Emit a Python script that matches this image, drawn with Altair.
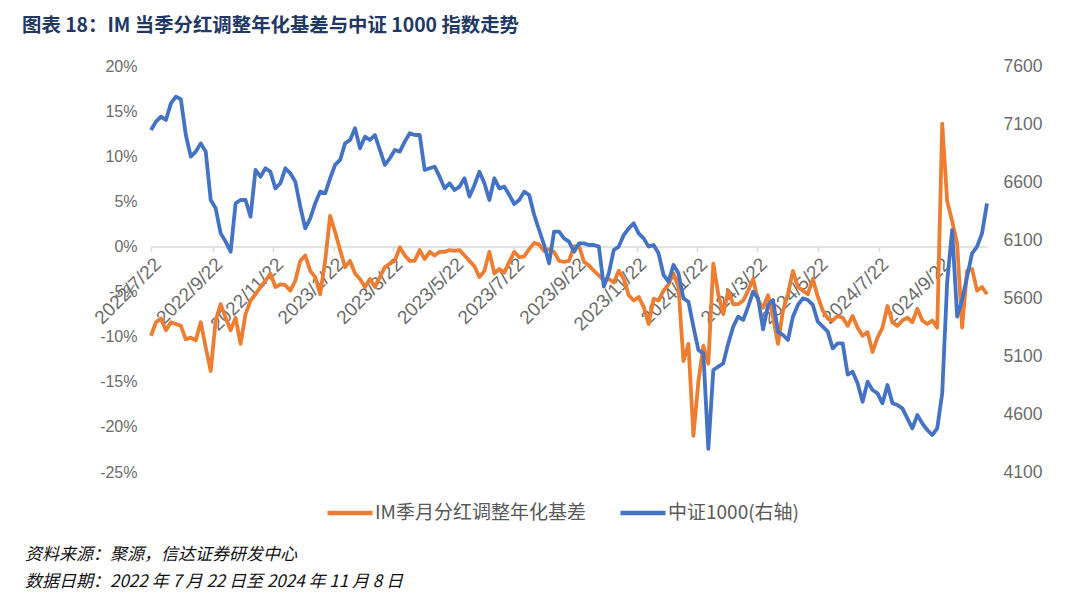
import altair as alt
import pandas as pd

start_date = "2022-07-22"
end_date = "2024-11-08"

basis = [  # IM 季月分红调整年化基差, %
    -9.9, -8.4, -8.0, -9.3, -8.4, -8.6, -8.8, -10.3, -10.1, -10.4,
    -8.4, -11.2, -13.8, -8.2, -6.4, -7.9, -9.3, -7.9, -10.8, -7.5,
    -6.0, -5.3, -4.5, -3.8, -3.0, -4.5, -4.2, -4.3, -4.9, -3.8,
    -1.6, -1.0, -2.7, -3.4, -5.3, -1.6, 3.4, 1.6, -0.4, -2.3,
    -1.6, -3.0, -3.6, -4.5, -3.6, -4.5, -3.4, -2.3, -1.9, -1.6,
    -0.1, -1.0, -1.6, -1.6, -0.4, -1.4, -0.6, -1.0, -0.6, -0.6,
    -0.4, -0.5, -0.4, -1.0, -1.6, -2.2, -3.4, -2.7, -0.6, -3.0,
    -2.5, -2.9, -1.7, -0.6, -1.2, -1.1, -0.3, 0.4, 0.2, -0.5,
    -0.3, -0.6, -1.6, -1.7, -1.6, 0.0, 0.1, -1.7, -2.1, -2.7,
    -3.2, -3.8, -3.6, -4.0, -2.7, -3.6, -5.4, -6.0, -5.6, -6.7,
    -8.6, -5.8, -6.0, -4.9, -4.2, -3.0, -4.5, -12.7, -10.8, -21.0,
    -15.0, -11.0, -13.0, -1.9, -5.3, -7.5, -4.9, -6.4, -6.4, -6.0,
    -4.9, -3.6, -6.0, -6.8, -5.4, -7.8, -10.8, -7.1, -5.3, -2.7,
    -4.5, -4.9, -5.3, -3.6, -5.6, -7.1, -8.0, -8.2, -7.7, -7.9,
    -8.8, -7.7, -9.0, -9.9, -9.5, -11.7, -10.1, -9.0, -6.6, -8.4,
    -8.8, -8.2, -7.9, -8.4, -6.9, -8.2, -8.6, -8.2, -9.0, 13.6,
    5.0, 2.8, 0.3, -9.0, -2.7, -2.5, -4.9, -4.5, -5.3,
]

csi1000 = [  # 中证1000 (right axis)
    7049, 7120, 7163, 7135, 7278, 7336, 7313, 7005, 6819, 6862,
    6933, 6862, 6445, 6373, 6157, 6086, 5999, 6416, 6445, 6445,
    6301, 6704, 6646, 6718, 6689, 6545, 6589, 6718, 6675, 6603,
    6387, 6201, 6287, 6416, 6517, 6502, 6632, 6747, 6790, 6933,
    6962, 7063, 6890, 6991, 6962, 7005, 6876, 6747, 6804, 6876,
    6862, 6948, 7020, 7005, 7005, 6704, 6718, 6732, 6646, 6545,
    6589, 6531, 6560, 6632, 6474, 6574, 6689, 6589, 6445, 6632,
    6545, 6560, 6488, 6410, 6445, 6517, 6488, 6316, 6186, 6057,
    5899, 6172, 6172, 6114, 6086, 5999, 6071, 6071, 6057, 6057,
    6043, 5698, 5813, 6014, 6043, 6143, 6201, 6244, 6157, 6114,
    6043, 6057, 5985, 5798, 5741, 5884, 5813, 5597, 5568, 5353,
    5152, 5123, 4300, 4979, 5008, 5037, 5209, 5353, 5439, 5410,
    5525, 5655, 5597, 5330, 5540, 5583, 5310, 5281, 5238, 5439,
    5540, 5597, 5583, 5540, 5396, 5353, 5310, 5166, 5209, 5209,
    4940, 4965, 4864, 4706, 4879, 4807, 4778, 4692, 4850, 4692,
    4677, 4649, 4563, 4476, 4591, 4519, 4462, 4419, 4476, 4778,
    5740, 6186, 5439, 5583, 5784, 5985, 6043, 6157, 6416,
]

tick_dates = [
    "2022-07-22", "2022-09-22", "2022-11-22", "2023-01-22", "2023-03-22",
    "2023-05-22", "2023-07-22", "2023-09-22", "2023-11-22", "2024-01-22",
    "2024-03-22", "2024-05-22", "2024-07-22", "2024-09-22",
]

series_names = ["IM季月分红调整年化基差", "中证1000(右轴)"]
series_colors = ["#ED7D31", "#4472C4"]

title_text = "图表 18：IM 当季分红调整年化基差与中证 1000 指数走势"
note1 = "资料来源：聚源，信达证券研发中心"
note2 = "数据日期：2022 年 7 月 22 日至 2024 年 11 月 8 日"

# ---- table ----
dates = pd.date_range(start_date, periods=len(basis), freq="5D")
df = pd.DataFrame({"date": dates, "basis": basis, "csi": csi1000})


def dt(s):
    t = pd.Timestamp(s)
    return alt.DateTime(year=t.year, month=t.month, date=t.day)


W, H = 836, 406
label_color = "#6b6b6b"

x_enc = alt.X(
    "date:T",
    scale=alt.Scale(domain=[dt(start_date), dt(end_date)]),
    axis=alt.Axis(
        values=[dt(s) for s in tick_dates],
        format="%Y/%-m/%-d",
        labelAngle=-45,
        labelFontSize=19,
        labelColor=label_color,
        labelFont="Liberation Sans",
        offset=-225.6,
        domainColor="#d9d9d9",
        domainWidth=1.5,
        tickColor="#d9d9d9",
        tickWidth=1.5,
        tickSize=5,
        grid=False,
        title=None,
        labelPadding=3,
        labelOverlap=False,
    ),
)

color_scale = alt.Scale(domain=series_names, range=series_colors)

left = alt.Chart(df).transform_calculate(
    series=f"'{series_names[0]}'"
).mark_line(strokeWidth=3.8, strokeJoin="round").encode(
    x=x_enc,
    y=alt.Y(
        "basis:Q",
        scale=alt.Scale(domain=[-25, 20], nice=False, zero=False),
        axis=alt.Axis(
            values=list(range(-25, 21, 5)),
            labelExpr="datum.value + '%'",
            domain=False,
            ticks=False,
            grid=False,
            title=None,
            labelFontSize=16,
            labelColor=label_color,
            labelFont="Liberation Sans",
            labelPadding=14,
        ),
    ),
    color=alt.Color(
        "series:N",
        scale=color_scale,
        legend=alt.Legend(
            title=None,
            orient="none",
            direction="horizontal",
            legendX=174,
            legendY=422,
            symbolType="stroke",
            symbolSize=2025,
            symbolStrokeWidth=4.5,
            labelFontSize=19,
            labelFont="Noto Sans CJK SC",
            labelColor="#595959",
            labelLimit=0,
            labelOffset=0,
            columnPadding=25,
            padding=0,
        ),
    ),
)

right = alt.Chart(df).transform_calculate(
    series=f"'{series_names[1]}'"
).mark_line(strokeWidth=3.8, strokeJoin="round").encode(
    x=x_enc,
    y=alt.Y(
        "csi:Q",
        scale=alt.Scale(domain=[4100, 7600], nice=False, zero=False),
        axis=alt.Axis(
            orient="right",
            values=list(range(4100, 7601, 500)),
            format="d",
            domain=False,
            ticks=False,
            grid=False,
            title=None,
            labelFontSize=17.5,
            labelColor=label_color,
            labelFont="Liberation Sans",
            labelPadding=16,
        ),
    ),
    color=alt.Color("series:N", scale=color_scale),
)

notes = alt.Chart(pd.DataFrame({"a": [0]})).mark_text(
    align="left", baseline="middle", fontSize=17, fontStyle="italic",
    font="Noto Sans CJK SC", color="#111111",
)
n1 = notes.encode(x=alt.value(-126), y=alt.value(489), text=alt.value(note1))
n2 = notes.encode(x=alt.value(-126), y=alt.value(516), text=alt.value(note2))

chart = (
    alt.layer(left, right, n1, n2)
    .resolve_scale(y="independent")
    .properties(
        width=W,
        height=H,
        autosize=alt.AutoSizeParams(type="none"),
        padding={"left": 143, "top": 58, "right": 85, "bottom": 120},
        title=alt.TitleParams(
            text=title_text,
            anchor="start",
            frame="group",
            dx=-129,
            offset=21,
            fontSize=19.4,
            fontWeight="bold",
            font="Noto Sans CJK SC",
            color="#1f3864",
        ),
    )
    .configure_view(stroke=None)
)

chart.save("out.html", embed_options={"renderer": "svg", "actions": False})
